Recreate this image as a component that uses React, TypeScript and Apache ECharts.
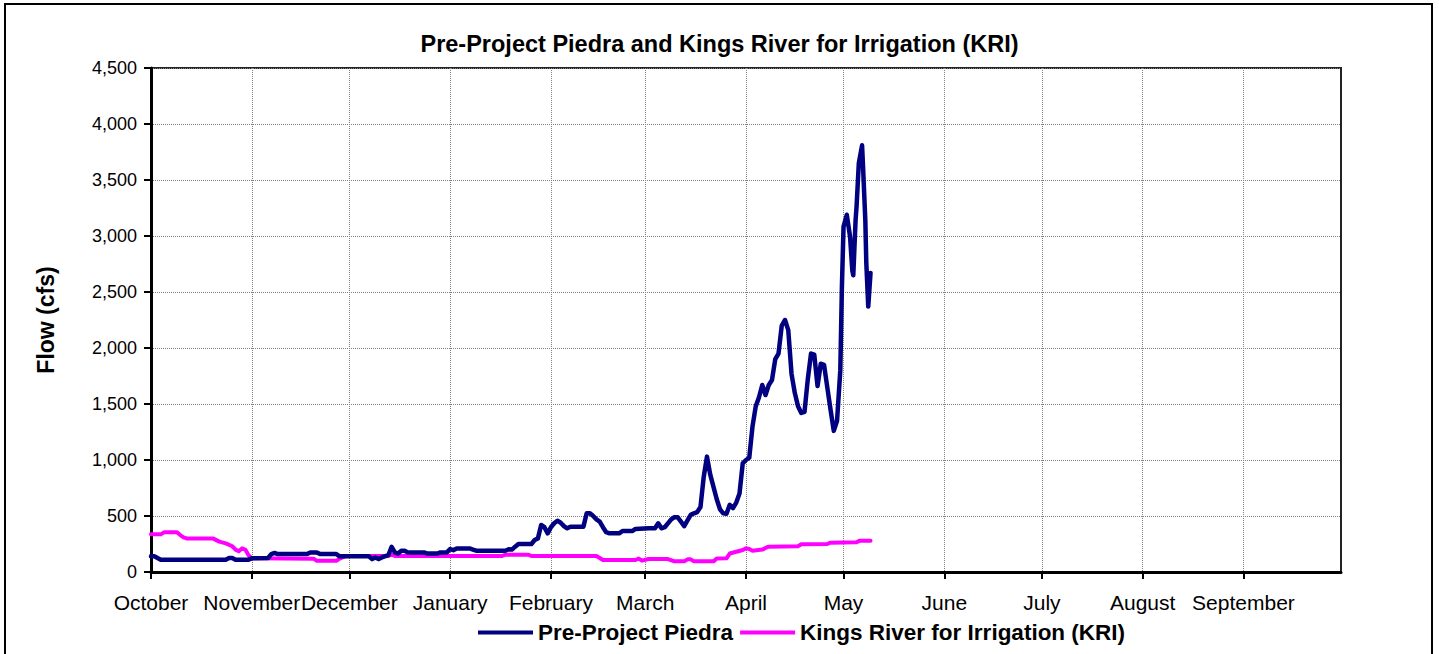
import React, { useEffect, useRef } from "react";
import * as echarts from "echarts";

const monthStarts = [0, 31, 61, 92, 123, 152, 183, 213, 244, 274, 305, 336];
const monthNames = ["October", "November", "December", "January", "February", "March", "April", "May", "June", "July", "August", "September"];

const piedra: [number, number][] = [
  [0, 140], [1, 140], [3, 110], [23, 110], [24, 125], [25, 125], [26, 110], [30, 110], [31, 122], [36, 125],
  [37, 160], [38, 170], [39, 160], [48, 160], [49, 175], [51, 175], [52, 160], [57, 160], [58, 140], [67, 140],
  [68, 115], [69, 130], [70, 115], [71, 130], [73, 150], [74, 225], [75, 175], [76, 165], [77, 190], [78, 190],
  [79, 175], [84, 175], [85, 165], [88, 165], [89, 175], [91, 175], [92, 205], [93, 195], [94, 210], [98, 210],
  [99, 200], [100, 190], [109, 190], [110, 203], [111, 200], [112, 226], [113, 250], [117, 250], [118, 286],
  [119, 300], [120, 420], [121, 400], [122, 345], [123, 400], [124, 435], [125, 458], [126, 440], [127, 410],
  [128, 390], [129, 405], [133, 405], [134, 524], [135, 524], [136, 500], [137, 470], [138, 450], [139, 400],
  [140, 355], [141, 345], [144, 345], [145, 366], [148, 366], [149, 385], [153, 390], [155, 390], [156, 435],
  [157, 390], [158, 400], [160, 470], [161, 490], [162, 488], [163, 450], [164, 410], [165, 460], [166, 510],
  [167, 524], [168, 535], [169, 580], [170, 850], [171, 1030], [172, 870], [173, 760], [174, 650], [175, 560],
  [176, 524], [177, 520], [178, 600], [179, 571], [180, 620], [181, 700], [182, 970], [183, 1000], [184, 1020],
  [185, 1300], [186, 1480], [187, 1560], [188, 1670], [189, 1580], [190, 1670], [191, 1715], [192, 1900],
  [193, 1950], [194, 2200], [195, 2250], [196, 2160], [197, 1770], [198, 1600], [199, 1480], [200, 1420],
  [201, 1430], [202, 1720], [203, 1950], [204, 1940], [205, 1660], [206, 1860], [207, 1850], [208, 1650],
  [209, 1450], [210, 1260], [211, 1350], [212, 1800], [212.5, 2550], [213, 3084], [214, 3190], [215, 2995],
  [215.7, 2690], [216, 2650], [216.7, 3140], [217, 3260], [217.7, 3650], [218.7, 3810], [219, 3620],
  [219.7, 3140], [220, 2760], [220.6, 2370], [221.3, 2670],
];

const kri: [number, number][] = [
  [0, 336], [3, 336], [4, 354], [8, 354], [9, 330], [10, 310], [11, 300], [19, 300], [21, 271], [23, 256],
  [25, 230], [26, 200], [27, 185], [28, 211], [29, 200], [30, 150], [31, 122], [50, 119], [51, 100], [57, 100],
  [58, 120], [60, 143], [73, 143], [74, 155], [75, 143], [108, 143], [109, 155], [116, 155], [117, 143],
  [137, 143], [139, 107], [149, 107], [150, 120], [151, 101], [153, 116], [159, 116], [161, 95], [164, 95],
  [165, 113], [166, 113], [167, 95], [173, 95], [174, 120], [177, 122], [178, 165], [180, 181], [182, 196],
  [183, 211], [184, 205], [185, 190], [188, 200], [189, 215], [190, 226], [199, 230], [200, 247], [208, 250],
  [209, 262], [217, 265], [218, 280], [221.3, 280],
];

const FONT = "'Liberation Sans', Arial, sans-serif";

export default function App() {
  const ref = useRef<HTMLDivElement>(null);
  useEffect(() => {
    if (!ref.current) return;
    const chart = echarts.init(ref.current, null, { renderer: "svg" });
    chart.setOption({
      animation: false,
      backgroundColor: "#fff",
      title: {
        text: "Pre-Project Piedra and Kings River for Irrigation (KRI)",
        left: "center",
        top: 27,
        textStyle: { fontFamily: FONT, fontWeight: "bold", fontSize: 23.5, color: "#000" },
      },
      graphic: [
        {
          type: "rect",
          shape: { x: 5, y: 4, width: 1427, height: 670 },
          style: { fill: "none", stroke: "#000", lineWidth: 2 },
          silent: true,
        },
      ],
      legend: {
        left: 473,
        top: 616,
        itemWidth: 55,
        itemHeight: 4,
        itemGap: 7,
        icon: "rect",
        textStyle: { fontFamily: FONT, fontWeight: "bold", fontSize: 22.5, color: "#000" },
        data: ["Pre-Project Piedra", "Kings River for Irrigation (KRI)"],
      },
      grid: {
        left: 151,
        top: 68,
        right: 98,
        bottom: 82,
        show: true,
        borderColor: "#222",
        borderWidth: 2,
      },
      xAxis: {
        type: "value",
        min: 0,
        max: 366,
        axisLine: { onZero: false, lineStyle: { color: "#000", width: 3 } },
        axisTick: { show: true, length: 7, lineStyle: { color: "#000", width: 2 }, customValues: monthStarts },
        axisLabel: {
          customValues: monthStarts,
          margin: 20,
          fontFamily: FONT,
          fontSize: 21,
          color: "#000",
          hideOverlap: false,
          formatter: (v: number) => monthNames[monthStarts.indexOf(v)] ?? "",
        },
        splitLine: { show: true, lineStyle: { color: "#808080", type: [1, 1], width: 1 } },
      },
      yAxis: {
        type: "value",
        min: 0,
        max: 4500,
        interval: 500,
        name: "Flow (cfs)",
        nameLocation: "middle",
        nameGap: 94,
        nameTextStyle: { fontFamily: FONT, fontWeight: "bold", fontSize: 23, color: "#000" },
        axisLine: { show: true, lineStyle: { color: "#000", width: 3 } },
        axisTick: { show: true, length: 7, lineStyle: { color: "#000", width: 2 } },
        axisLabel: {
          margin: 14,
          fontFamily: FONT,
          fontSize: 18,
          color: "#000",
          formatter: (v: number) => v.toLocaleString("en-US"),
        },
        splitLine: { show: true, lineStyle: { color: "#808080", type: [1, 1], width: 1 } },
      },
      series: [
        {
          name: "Pre-Project Piedra",
          type: "line",
          data: piedra,
          symbol: "none",
          color: "#000080",
          lineStyle: { color: "#000080", width: 4.5, join: "round", cap: "round" },
        },
        {
          name: "Kings River for Irrigation (KRI)",
          type: "line",
          data: kri,
          symbol: "none",
          color: "#FF00FF",
          z: 1,
          lineStyle: { color: "#FF00FF", width: 4, join: "round", cap: "round" },
        },
      ],
    });
    return () => chart.dispose();
  }, []);
  return (
    <div
      ref={ref}
      style={{ position: "fixed", left: 0, top: 0, width: 1439, height: 654 }}
    />
  );
}
